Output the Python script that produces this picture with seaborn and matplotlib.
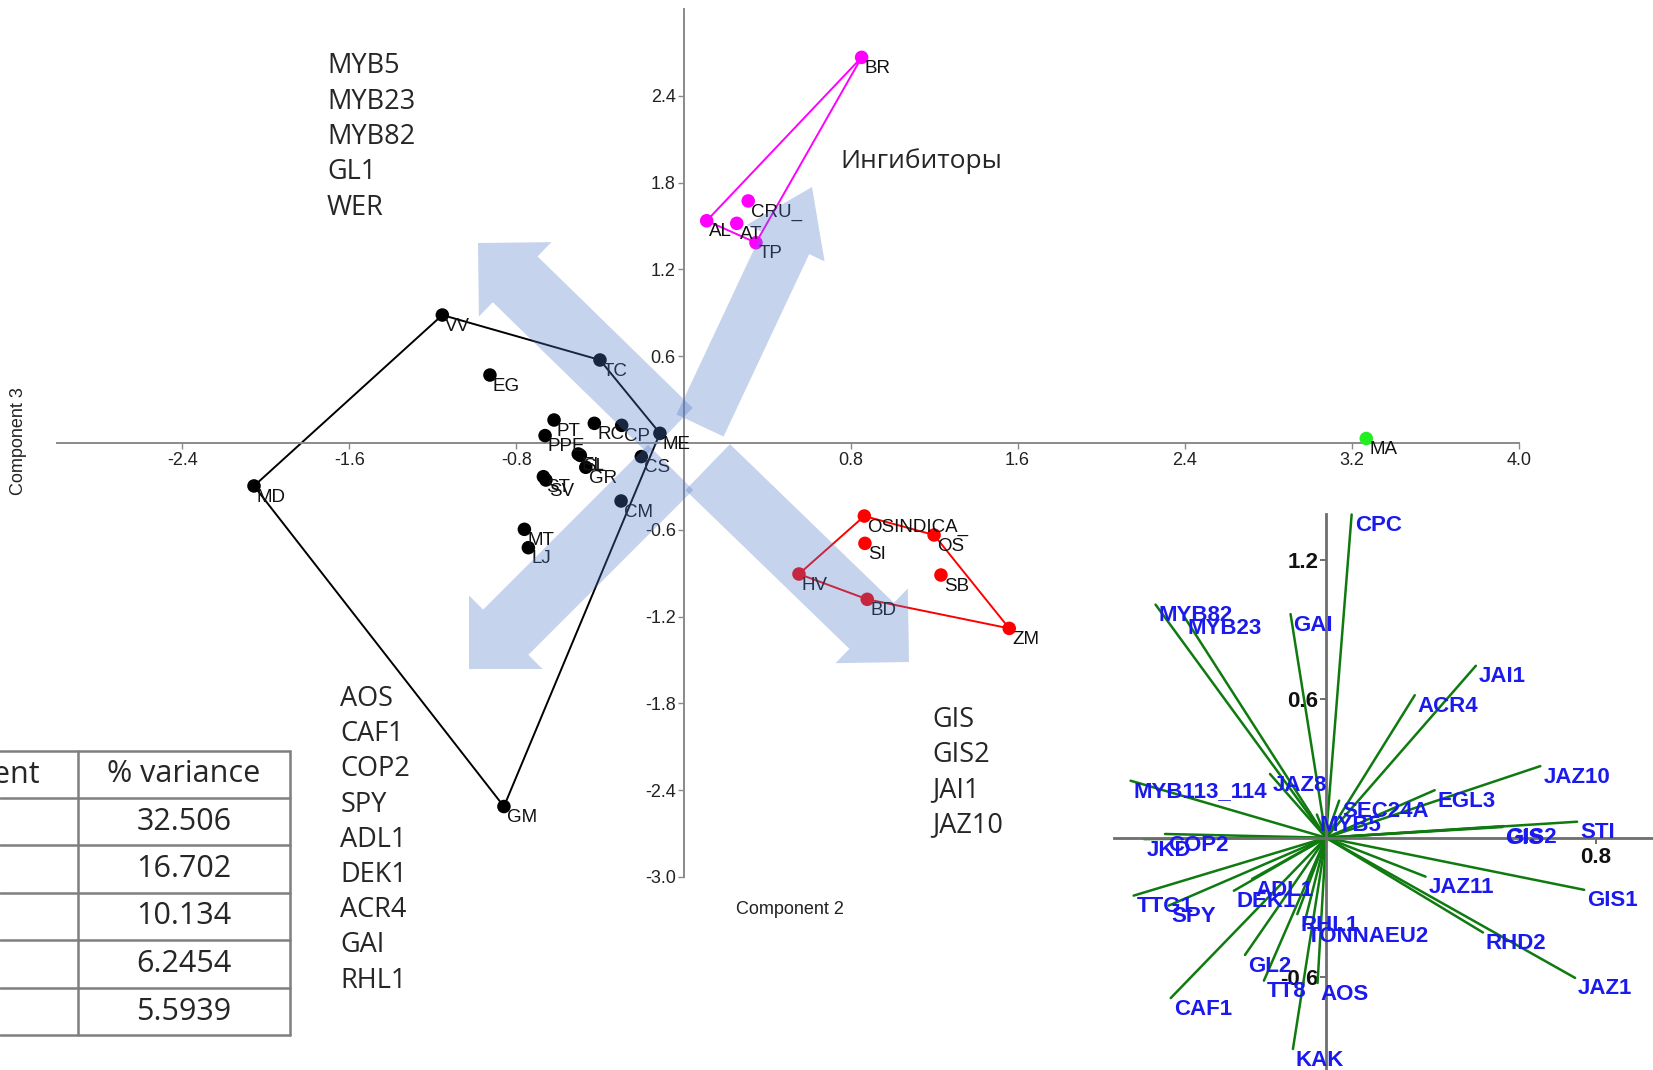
import numpy as np
import pandas as pd
import matplotlib
matplotlib.use("Agg")
import matplotlib.pyplot as plt
import seaborn as sns
from matplotlib.patches import FancyArrow

# ---------------- data ----------------
samples = ["VV", "MD", "GM", "TC", "ME", "CS", "CM", "EG", "PT", "PPE", "RC", "CP",
           "EL", "SL", "GR", "ST", "SV", "MT", "LJ",
           "BR", "CRU_", "AL", "AT", "TP",
           "OSINDICA_", "OS", "SI", "SB", "HV", "BD", "ZM",
           "MA"]
pc2 = [-1.155, -2.057, -0.860, -0.400, -0.113, -0.202, -0.299, -0.927, -0.620, -0.663, -0.427, -0.296,
       -0.504, -0.494, -0.468, -0.671, -0.659, -0.762, -0.743,
       0.853, 0.310, 0.111, 0.255, 0.347,
       0.866, 1.200, 0.869, 1.233, 0.553, 0.880, 1.560,
       3.270]
pc3 = [0.885, -0.297, -2.514, 0.574, 0.067, -0.094, -0.401, 0.470, 0.159, 0.051, 0.136, 0.122,
       -0.076, -0.086, -0.168, -0.233, -0.256, -0.597, -0.724,
       2.667, 1.674, 1.537, 1.519, 1.385,
       -0.505, -0.636, -0.694, -0.913, -0.906, -1.081, -1.282,
       0.031]
groups = ["dicots"] * 19 + ["inhibitors"] * 5 + ["monocots"] * 7 + ["algae"]
group_colors = {"dicots": "#000000", "inhibitors": "#ff00ff",
                "monocots": "#ff0000", "algae": "#22ee22"}

x_ticks = [-2.4, -1.6, -0.8, 0.8, 1.6, 2.4, 3.2, 4.0]
y_ticks = [-3.0, -2.4, -1.8, -1.2, -0.6, 0.6, 1.2, 1.8, 2.4]

genes = ["CPC", "MYB82", "MYB23", "GAI", "JAI1", "ACR4", "JAZ10", "EGL3", "STI", "GIS2", "GIS",
         "GIS1", "JAZ11", "RHD2", "JAZ1", "MYB113_114", "JAZ8", "COP2", "JKD", "TTG1", "SPY",
         "DEK1", "ADL1", "RHL1", "TONNAEU2", "GL2", "TT8", "AOS", "CAF1", "KAK", "MYB5", "SEC24A"]
load_x = [0.076, -0.505, -0.419, -0.105, 0.444, 0.263, 0.635, 0.322, 0.744, 0.526, 0.522,
          0.765, 0.295, 0.465, 0.738, -0.579, -0.166, -0.477, -0.539, -0.570, -0.466,
          -0.273, -0.219, -0.085, -0.066, -0.240, -0.184, -0.025, -0.460, -0.098, -0.027, 0.039]
load_y = [1.395, 1.006, 0.951, 0.965, 0.742, 0.615, 0.309, 0.205, 0.069, 0.050, 0.046,
          -0.225, -0.168, -0.409, -0.605, 0.246, 0.275, 0.016, -0.006, -0.250, -0.293,
          -0.229, -0.178, -0.330, -0.380, -0.506, -0.617, -0.627, -0.692, -0.912, 0.100, 0.160]
inset_x_ticks = [0.8]
inset_y_ticks = [-0.6, 0.6, 1.2]

genes_upper_left = ["MYB5", "MYB23", "MYB82", "GL1", "WER"]
genes_lower_left = ["AOS", "CAF1", "COP2", "SPY", "ADL1", "DEK1", "ACR4", "GAI", "RHL1"]
genes_lower_right = ["GIS", "GIS2", "JAI1", "JAZ10"]
inhibitors_label = "Ингибиторы"

table_header = ["Component", "% variance"]
variance = ["32.506", "16.702", "10.134", "6.2454", "5.5939"]

df = pd.DataFrame({"sample": samples, "pc2": pc2, "pc3": pc3, "group": groups})
load = pd.DataFrame({"gene": genes, "x": load_x, "y": load_y})


def convex_hull(pts):
    pts = sorted(set(pts))
    if len(pts) < 3:
        return pts
    def cross(o, a, b):
        return (a[0] - o[0]) * (b[1] - o[1]) - (a[1] - o[1]) * (b[0] - o[0])
    lower, upper = [], []
    for p in pts:
        while len(lower) >= 2 and cross(lower[-2], lower[-1], p) <= 0:
            lower.pop()
        lower.append(p)
    for p in reversed(pts):
        while len(upper) >= 2 and cross(upper[-2], upper[-1], p) <= 0:
            upper.pop()
        upper.append(p)
    return lower[:-1] + upper[:-1]


# ---------------- figure ----------------
sns.set_theme(style="white")
plt.rcParams["font.family"] = ["Liberation Sans", "DejaVu Sans"]
W, H = 1653, 1070
fig = plt.figure(figsize=(W / 100, H / 100), dpi=100)
fig.patch.set_facecolor("white")

# main scatter axes (axes cross at origin)
X0, SX, Y0, SY = 683.5, 208.8, 443.0, 144.6
ax = fig.add_axes([0, 0, 1, 1])
ax.set_facecolor("white")
ax.set_xlim(-X0 / SX, (W - X0) / SX)
ax.set_ylim((Y0 - H) / SY, Y0 / SY)

for g, sub in df.groupby("group"):
    hull = convex_hull(list(zip(sub["pc2"], sub["pc3"])))
    if len(hull) >= 3:
        hx = [p[0] for p in hull] + [hull[0][0]]
        hy = [p[1] for p in hull] + [hull[0][1]]
        ax.plot(hx, hy, color=group_colors[g], lw=1.4, zorder=2)

sns.scatterplot(data=df, x="pc2", y="pc3", hue="group", palette=group_colors,
                s=95, linewidth=0, legend=False, ax=ax, zorder=3)
for _, r in df.iterrows():
    ax.annotate(r["sample"], (r["pc2"], r["pc3"]), xytext=(2.0, -8), textcoords="offset points",
                ha="left", va="center", fontsize=13.5, color="#111111", zorder=4)

axis_gray = "#8a8a8a"
for s in ["top", "right"]:
    ax.spines[s].set_visible(False)
ax.spines["bottom"].set_position(("data", 0))
ax.spines["left"].set_position(("data", 0))
ax.spines["bottom"].set_bounds(-3.0, 4.0)
ax.spines["left"].set_bounds(-3.0, 3.0)
for s in ["bottom", "left"]:
    ax.spines[s].set_color(axis_gray)
    ax.spines[s].set_linewidth(1.4)
ax.set_xticks(x_ticks)
ax.set_xticklabels([f"{v:.1f}" for v in x_ticks])
ax.set_yticks(y_ticks)
ax.set_yticklabels([f"{v:.1f}" for v in y_ticks])
ax.tick_params(axis="x", direction="out", length=4, width=1, color=axis_gray,
               labelsize=13, pad=2.5, labelcolor="#222222", bottom=True)
ax.tick_params(axis="y", direction="out", length=4, width=1, color=axis_gray,
               labelsize=13, pad=1.5, labelcolor="#222222", left=True)
ax.set_xlabel("Component 2", fontsize=13, color="#222222")
ax.xaxis.set_label_coords(790 / W, 1 - 901 / H)
ax.set_ylabel("Component 3", fontsize=13, color="#222222")
ax.yaxis.set_label_coords(27 / W, 1 - 441 / H)

# inset biplot of loadings
IX0, ISX, IY0, ISY = 1326.0, 337.5, 837.7, 231.7
L, R, T, B = 1100, W, 500, H
axin = fig.add_axes([L / W, 1 - B / H, (R - L) / W, (B - T) / H], zorder=3)
axin.patch.set_alpha(0)
axin.set_xlim((L - IX0) / ISX, (R - IX0) / ISX)
axin.set_ylim((IY0 - B) / ISY, (IY0 - T) / ISY)
for _, r in load.iterrows():
    axin.plot([0, r["x"]], [0, r["y"]], color="#0f7a0f", lw=1.8, zorder=2)
for _, r in load.iterrows():
    axin.annotate(r["gene"], (r["x"], r["y"]), xytext=(2.2, -8), textcoords="offset points",
                  ha="left", va="center", fontsize=16, fontweight="bold",
                  color="#1a1aee", zorder=4)
for s in ["top", "right"]:
    axin.spines[s].set_visible(False)
axin.spines["bottom"].set_position(("data", 0))
axin.spines["left"].set_position(("data", 0))
axin.spines["bottom"].set_bounds((1114 - IX0) / ISX, (R - IX0) / ISX)
axin.spines["left"].set_bounds((IY0 - B) / ISY, (IY0 - 514) / ISY)
for s in ["bottom", "left"]:
    axin.spines[s].set_color("#6e6e6e")
    axin.spines[s].set_linewidth(2.0)
axin.set_xticks(inset_x_ticks)
axin.set_xticklabels([f"{v:.1f}" for v in inset_x_ticks])
axin.set_yticks(inset_y_ticks)
axin.set_yticklabels([f"{v:.1f}" for v in inset_y_ticks])
axin.tick_params(axis="both", direction="out", length=4, width=1.2, color="#555555",
                 labelsize=16, pad=1.5, labelcolor="#111111", bottom=True, left=True)
for t in axin.get_xticklabels() + axin.get_yticklabels():
    t.set_fontweight("bold")
axin.tick_params(axis="x", pad=3)

# overlay (pixel coordinates): arrows, gene lists, table
ov = fig.add_axes([0, 0, 1, 1], zorder=5)
ov.set_xlim(0, W)
ov.set_ylim(H, 0)
ov.axis("off")

arrow_rgb = (0.31, 0.47, 0.78)
cx, cy = 689.0, 449.0
arrow_specs = [((478, 243), 64, 104, 52),
               ((812, 187), 52, 86, 62),
               ((469, 669), 64, 104, 52),
               ((909, 662), 64, 104, 52)]
for (tx, ty), w, hw, hl in arrow_specs:
    dx, dy = tx - cx, ty - cy
    n = np.hypot(dx, dy)
    ux, uy = dx / n, dy / n
    gap = 26
    sx, sy = cx + ux * gap, cy + uy * gap
    ov.add_patch(FancyArrow(sx, sy, tx - sx, ty - sy, width=w, head_width=hw, head_length=hl,
                            length_includes_head=True, color=arrow_rgb, alpha=0.32, lw=0))

big_font = ["Open Sans", "DejaVu Sans"]
for i, g in enumerate(genes_upper_left):
    ov.text(327, 66.4 + i * 35.3, g, family=big_font, fontsize=19.5, ha="left", va="center")
for i, g in enumerate(genes_lower_left):
    ov.text(340.5, 699 + i * 35.2, g, family=big_font, fontsize=19.5, ha="left", va="center")
for i, g in enumerate(genes_lower_right):
    ov.text(932, 720 + i * 35.2, g, family=big_font, fontsize=19.5, ha="left", va="center")
ov.text(840, 161, inhibitors_label, family=big_font, fontsize=19, ha="left", va="center")

# table
row_lines = [751, 798, 845, 893, 940, 988, 1035]
tcol = "#7f7f7f"
for yv in row_lines:
    ov.plot([0, 290], [yv, yv], color=tcol, lw=1.8)
for xv in [78, 290]:
    ov.plot([xv, xv], [row_lines[0], row_lines[-1]], color=tcol, lw=1.8)
ov.text(40, (row_lines[0] + row_lines[1]) / 2, table_header[0], family=big_font, fontsize=22,
        ha="right", va="center", color="#262626")
ov.text(184, (row_lines[0] + row_lines[1]) / 2, table_header[1], family=big_font, fontsize=22,
        ha="center", va="center", color="#262626")
for i, v in enumerate(variance):
    ov.text(184, (row_lines[i + 1] + row_lines[i + 2]) / 2, v, family=big_font, fontsize=22,
            ha="center", va="center", color="#262626")

fig.savefig("out.png", dpi=100)
